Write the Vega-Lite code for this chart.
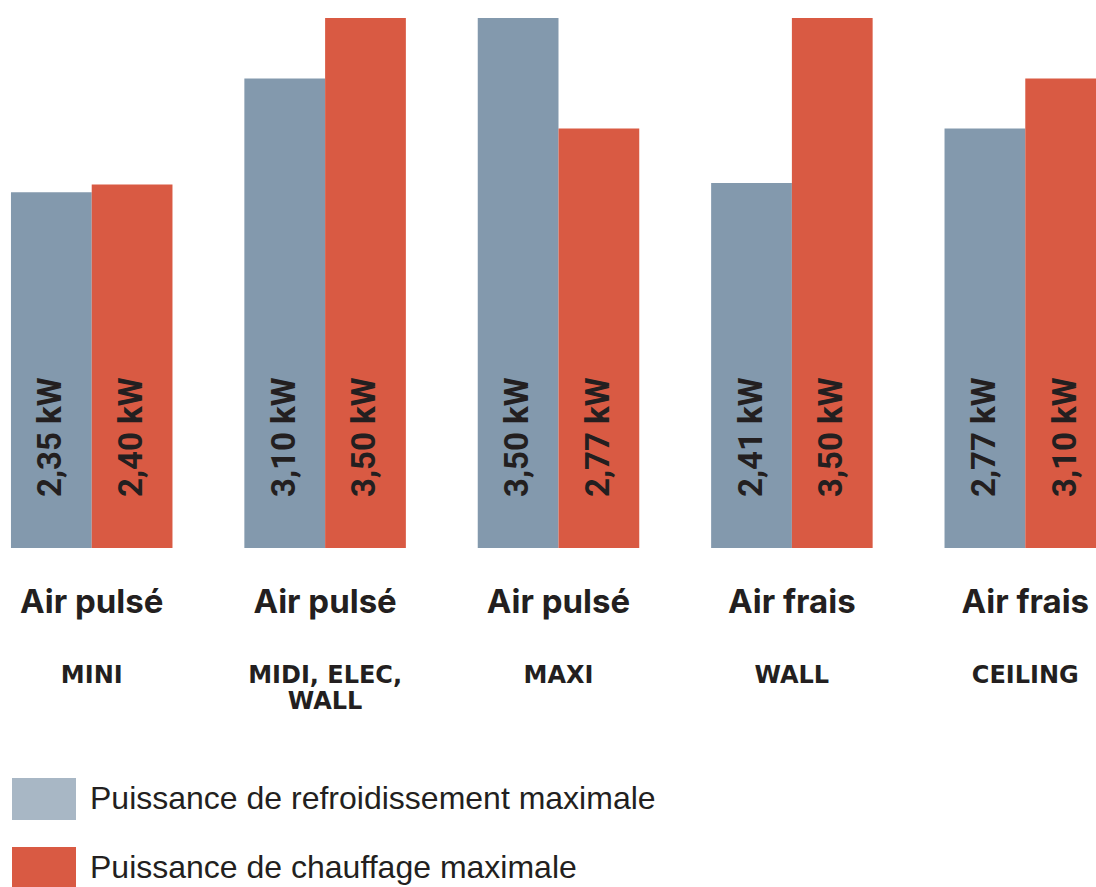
{
  "$schema": "https://vega.github.io/schema/vega-lite/v6.json",
  "width": 1096,
  "height": 530,
  "padding": {"top": 18, "left": 0, "right": 0, "bottom": 0},
  "background": "white",
  "config": {"view": {"stroke": null}},
  "data": {
    "values": [
      {"model": "MINI", "type": "Air pulsé", "series": "Puissance de refroidissement maximale", "value": 2.35, "label": "2,35 kW"},
      {"model": "MINI", "type": "Air pulsé", "series": "Puissance de chauffage maximale", "value": 2.40, "label": "2,40 kW"},
      {"model": "MIDI, ELEC,\nWALL", "type": "Air pulsé", "series": "Puissance de refroidissement maximale", "value": 3.10, "label": "3,10 kW"},
      {"model": "MIDI, ELEC,\nWALL", "type": "Air pulsé", "series": "Puissance de chauffage maximale", "value": 3.50, "label": "3,50 kW"},
      {"model": "MAXI", "type": "Air pulsé", "series": "Puissance de refroidissement maximale", "value": 3.50, "label": "3,50 kW"},
      {"model": "MAXI", "type": "Air pulsé", "series": "Puissance de chauffage maximale", "value": 2.77, "label": "2,77 kW"},
      {"model": "WALL", "type": "Air frais", "series": "Puissance de refroidissement maximale", "value": 2.41, "label": "2,41 kW"},
      {"model": "WALL", "type": "Air frais", "series": "Puissance de chauffage maximale", "value": 3.50, "label": "3,50 kW"},
      {"model": "CEILING", "type": "Air frais", "series": "Puissance de refroidissement maximale", "value": 2.77, "label": "2,77 kW"},
      {"model": "CEILING", "type": "Air frais", "series": "Puissance de chauffage maximale", "value": 3.10, "label": "3,10 kW"}
    ]
  },
  "encoding": {
    "x": {
      "field": "model",
      "type": "nominal",
      "sort": null,
      "axis": null,
      "scale": {"range": [0, 1117], "paddingInner": 0.308, "paddingOuter": 0.047}
    }
  },
  "layer": [
    {
      "mark": {"type": "bar", "clip": true},
      "encoding": {
        "xOffset": {"field": "series", "type": "nominal", "scale": {"domain": ["Puissance de refroidissement maximale", "Puissance de chauffage maximale"], "paddingInner": 0, "paddingOuter": 0}},
        "y": {"field": "value", "type": "quantitative", "axis": null, "scale": {"domain": [0, 3.5], "nice": false, "zero": true}},
        "color": {
          "field": "series",
          "type": "nominal",
          "scale": {"domain": ["Puissance de refroidissement maximale", "Puissance de chauffage maximale"], "range": ["#8399ad", "#d95a43"]},
          "legend": {
            "title": null,
            "orient": "none",
            "legendX": 12,
            "legendY": 749,
            "padding": 0,
            "symbolType": "M-1,-0.656H1V0.656H-1Z",
            "symbolSize": 4096,
            "symbolStrokeWidth": 0,
            "labelFont": "Liberation Sans",
            "labelFontSize": 32,
            "labelColor": "#231f20",
            "labelOffset": 14,
            "labelLimit": 0,
            "rowPadding": 16,
            "encode": {
              "symbols": {
                "update": {
                  "fillOpacity": {"signal": "datum.value === 'Puissance de refroidissement maximale' ? 0.7 : 1"}
                }
              }
            }
          }
        }
      }
    },
    {
      "mark": {"type": "text", "angle": 270, "align": "left", "baseline": "middle", "dx": 51, "font": "Roboto", "fontWeight": "bold", "fontSize": 33, "color": "#231f20"},
      "encoding": {
        "xOffset": {"field": "series", "type": "nominal", "scale": {"domain": ["Puissance de refroidissement maximale", "Puissance de chauffage maximale"]}},
        "y": {"datum": 0},
        "text": {"field": "label"}
      }
    },
    {
      "transform": [{"filter": "datum.series === 'Puissance de refroidissement maximale'"}],
      "mark": {"type": "text", "align": "center", "baseline": "alphabetic", "dy": 65, "font": "Inter", "fontWeight": "bold", "fontSize": 33, "color": "#231f20"},
      "encoding": {
        "y": {"datum": 0},
        "text": {"field": "type"}
      }
    },
    {
      "transform": [{"filter": "datum.series === 'Puissance de refroidissement maximale'"}],
      "mark": {"type": "text", "align": "center", "baseline": "alphabetic", "dy": 135, "font": "DejaVu Sans", "fontWeight": "bold", "fontSize": 24, "lineHeight": 26, "lineBreak": "\n", "color": "#231f20"},
      "encoding": {
        "y": {"datum": 0},
        "text": {"field": "model"}
      }
    }
  ]
}
